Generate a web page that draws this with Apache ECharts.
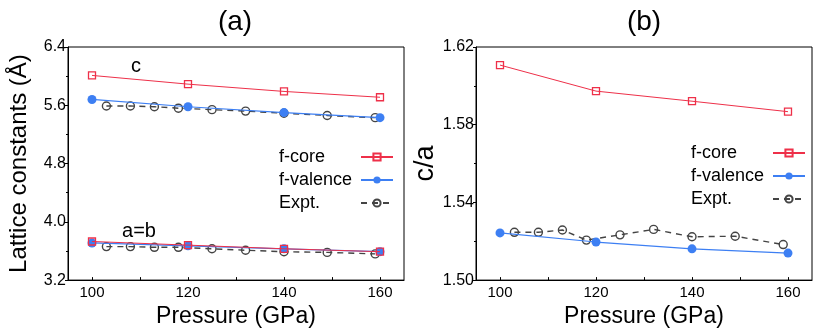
<!DOCTYPE html>
<html>
<head>
<meta charset="utf-8">
<script src="https://cdn.jsdelivr.net/npm/echarts@6/dist/echarts.min.js"></script>
<style>
  html, body { margin: 0; padding: 0; background: #fff; }
  #chart { width: 817px; height: 333px; }
</style>
</head>
<body>
<div id="chart"></div>
<script>
// pressure points (GPa)
var pressCalc = [100, 120, 140, 160];
var pressExpt = [103, 108, 113, 118, 125, 132, 140, 149, 159];

// (a) lattice constants, Å
var cCore = [6.01, 5.89, 5.79, 5.71];
var cVal = [5.68, 5.58, 5.50, 5.43];
var cExpt = [5.59, 5.59, 5.58, 5.56, 5.54, 5.52, 5.49, 5.46, 5.43];
var aCore = [3.73, 3.68, 3.63, 3.59];
var aVal = [3.71, 3.67, 3.63, 3.59];
var aExpt = [3.66, 3.66, 3.65, 3.65, 3.63, 3.61, 3.59, 3.58, 3.56];

// (b) c/a ratio
var caCore = [1.6107, 1.5973, 1.5921, 1.5867];
var caVal = [1.5243, 1.5196, 1.5161, 1.5139];
var caExpt = [1.5246, 1.5246, 1.5258, 1.5206, 1.5233, 1.5261, 1.5223, 1.5226, 1.5183];

var xMajor = [100, 120, 140, 160];
var xTicks = [100, 110, 120, 130, 140, 150, 160];
var legendNames = ['f-core', 'f-valence', 'Expt.'];

var FONT = 'Liberation Sans';
var RED = '#ee3049';
var BLUE = '#3d7ff3';
var GRAY = '#444';

function pairs(xs, ys) {
  return xs.map(function (x, i) { return [x, ys[i]]; });
}

function coreSeries(idx, ys) {
  return {
    name: 'f-core', type: 'line', xAxisIndex: idx, yAxisIndex: idx,
    data: pairs(pressCalc, ys), symbol: 'rect', symbolSize: 7, z: 4,
    lineStyle: { color: RED, width: 1 },
    itemStyle: { color: 'rgba(0,0,0,0)', borderColor: RED, borderWidth: 1.3 }
  };
}
function valSeries(idx, ys) {
  return {
    name: 'f-valence', type: 'line', xAxisIndex: idx, yAxisIndex: idx,
    data: pairs(pressCalc, ys), symbol: 'circle', symbolSize: 9, z: 3,
    lineStyle: { color: BLUE, width: 1.2 },
    itemStyle: { color: BLUE }
  };
}
function exptSeries(idx, ys) {
  return {
    name: 'Expt.', type: 'line', xAxisIndex: idx, yAxisIndex: idx,
    data: pairs(pressExpt, ys), symbol: 'circle', symbolSize: 8, z: 2,
    lineStyle: { color: GRAY, width: 1.4, type: [6, 5] },
    itemStyle: { color: 'rgba(0,0,0,0)', borderColor: GRAY, borderWidth: 1.4 }
  };
}

function xAxisCfg(idx) {
  return {
    type: 'value', gridIndex: idx, min: 95, max: 165,
    name: 'Pressure (GPa)', nameLocation: 'middle', nameGap: 20,
    nameTextStyle: { fontFamily: FONT, fontSize: 23, color: '#000' },
    axisLine: { lineStyle: { color: '#000', width: 1 } },
    axisTick: { inside: true, length: 3, customValues: xTicks, lineStyle: { color: '#000' } },
    axisLabel: { customValues: xMajor, fontFamily: FONT, fontSize: 15, color: '#000', margin: 5 },
    splitLine: { show: false }
  };
}
function yAxisCfg(idx, name, min, max, step, digits, gap) {
  return {
    type: 'value', gridIndex: idx, min: min, max: max, interval: step,
    name: name, nameLocation: 'middle', nameGap: gap,
    nameTextStyle: { fontFamily: FONT, fontSize: idx === 0 ? 24 : 27, color: '#000' },
    axisLine: { show: true, lineStyle: { color: '#000', width: 1 } },
    axisTick: { show: true, length: 3, lineStyle: { color: '#000' } },
    minorTick: { show: true, splitNumber: 2, length: 2, lineStyle: { color: '#000' } },
    axisLabel: {
      fontFamily: FONT, fontSize: 16, color: '#000', margin: 2,
      formatter: function (v) { return v.toFixed(digits); }
    },
    splitLine: { show: false }
  };
}
function legendCfg(left, top) {
  return {
    data: legendNames, orient: 'vertical', left: left, top: top, padding: 0,
    align: 'right', itemWidth: 32, itemHeight: 9, itemGap: 5,
    formatter: function (name) { return '{t|' + name + '}'; },
    textStyle: {
      fontFamily: FONT, fontSize: 18, color: '#000',
      rich: { t: { fontFamily: FONT, fontSize: 18, color: '#000', width: 77, align: 'left' } }
    }
  };
}

var chart = echarts.init(document.getElementById('chart'));
chart.setOption({
  animation: false,
  backgroundColor: '#fff',
  grid: [
    { left: 68, top: 47, width: 336, height: 238, show: true, borderColor: '#000', borderWidth: 1 },
    { left: 476, top: 47, width: 336, height: 239, show: true, borderColor: '#000', borderWidth: 1 }
  ],
  xAxis: [xAxisCfg(0), xAxisCfg(1)],
  yAxis: [
    yAxisCfg(0, 'Lattice constants (Å)', 3.2, 6.4, 0.8, 1, 37),
    yAxisCfg(1, 'c/a', 1.50, 1.62, 0.04, 2, 25)
  ],
  legend: [legendCfg(279, 148), legendCfg(691, 144)],
  graphic: [
    { type: 'text', x: 235, y: 22, style: { text: '(a)', font: '28px ' + FONT, fill: '#000', align: 'center', verticalAlign: 'middle' } },
    { type: 'text', x: 644, y: 22, style: { text: '(b)', font: '28px ' + FONT, fill: '#000', align: 'center', verticalAlign: 'middle' } },
    { type: 'text', x: 136, y: 66, style: { text: 'c', font: '20px ' + FONT, fill: '#000', align: 'center', verticalAlign: 'middle' } },
    { type: 'text', x: 139, y: 231, style: { text: 'a=b', font: '20px ' + FONT, fill: '#000', align: 'center', verticalAlign: 'middle' } }
  ],
  series: [
    exptSeries(0, cExpt), exptSeries(0, aExpt),
    valSeries(0, cVal), valSeries(0, aVal),
    coreSeries(0, cCore), coreSeries(0, aCore),
    exptSeries(1, caExpt), valSeries(1, caVal), coreSeries(1, caCore)
  ]
});
</script>
</body>
</html>
